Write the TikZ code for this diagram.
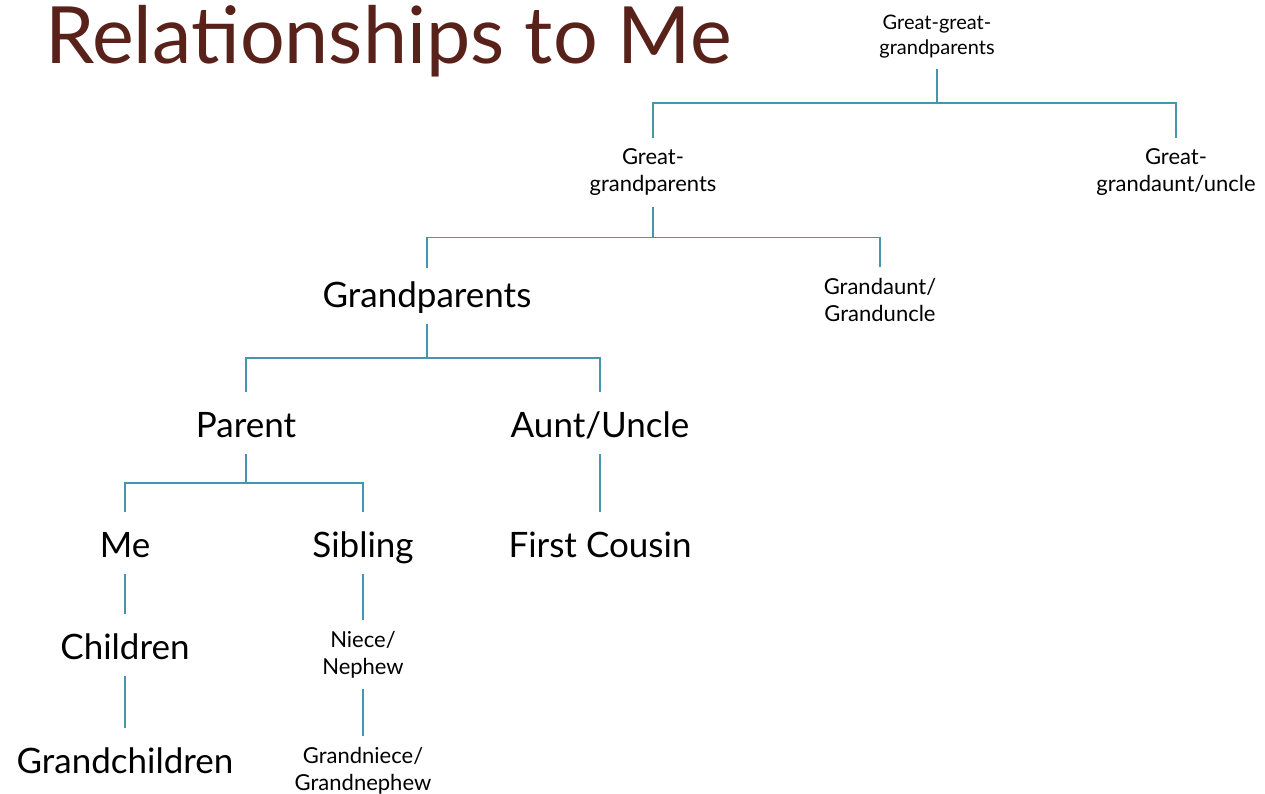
\documentclass[tikz,border=0pt]{standalone}
\usepackage{fontspec}
\setmainfont{Lato}
\usetikzlibrary{calc}
\definecolor{linkc}{HTML}{4596AC}
\definecolor{titlec}{HTML}{58221A}
\begin{document}
\begin{tikzpicture}[x=1pt,y=-1pt,
  big/.style={font=\fontsize{35}{40}\selectfont, text height=45pt, text depth=17pt, inner sep=0pt, anchor=base},
  small/.style={font=\fontsize{22}{27}\selectfont, align=center, inner xsep=0pt, inner ysep=11pt},
  tiny/.style={font=\fontsize{20}{25}\selectfont, align=center, inner xsep=0pt, inner ysep=10pt},
  link/.style={draw=linkc, line width=1.9pt}]
\useasboundingbox (0,0) rectangle (1265,794);
\node[anchor=base west, inner sep=0pt, text=titlec, font=\fontsize{79}{90}\selectfont] (title) at (45,64) {Relationships to Me};

\node[tiny] (ggp) at (937,37) {Great-great-\\grandparents};
\node[small] (gp) at (653,172.5) {Great-\\grandparents};
\node[small] (gga) at (1176,172.5) {Great-\\grandaunt/uncle};
\node[big, text height=39pt] (g) at (427,307) {Grandparents};
\node[small] (ga) at (880,300) {Grandaunt/\\Granduncle};
\node[big] (par) at (246,437) {Parent};
\node[big] (au) at (600,437) {Aunt/Uncle};
\node[big] (me) at (125,557) {Me};
\node[big] (sib) at (363,557) {Sibling};
\node[big] (fc) at (600,557) {First Cousin};
\node[big] (ch) at (125,659) {Children};
\node[big] (gc) at (125,773) {Grandchildren};
\node[small] (nn) at (363,654.5) {Niece/\\Nephew};
\node[small] (gn) at (363,770.5) {Grandniece/\\Grandnephew};

\path ($(ggp.south)!.5!(gp.north)$) coordinate (m1);
\coordinate (b1) at (ggp.south |- m1);
\draw[link] (ggp.south) -- (b1);
\draw[link] (gp.north) |- (b1) -| (gga.north);

\path ($(gp.south)!.5!(g.north)$) coordinate (m2);
\coordinate (b2) at (gp.south |- m2);
\draw[link] (gp.south) -- (b2);
\draw[link] (g.north) |- (b2) -| (ga.north);

\path ($(g.south)!.5!(par.north)$) coordinate (m3);
\coordinate (b3) at (g.south |- m3);
\draw[link] (g.south) -- (b3);
\draw[link] (par.north) |- (b3) -| (au.north);

\path ($(par.south)!.5!(me.north)$) coordinate (m4);
\coordinate (b4) at (par.south |- m4);
\draw[link] (par.south) -- (b4);
\draw[link] (me.north) |- (b4) -| (sib.north);

\draw[link] (au.south) -- (fc.north);
\draw[link] (me.south) -- (ch.north);
\draw[link] (ch.south) -- (gc.north);
\draw[link] (sib.south) -- (nn.north);
\draw[link] (nn.south) -- (gn.north);
\end{tikzpicture}
\end{document}
